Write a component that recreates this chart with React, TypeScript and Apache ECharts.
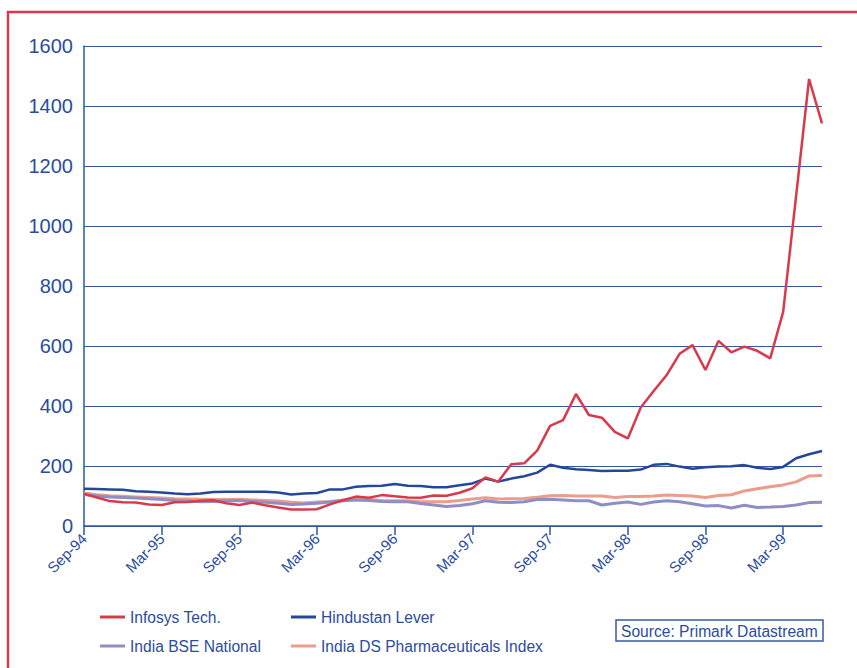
import React, { useEffect, useRef } from "react";
import * as echarts from "echarts";

const months: string[] = (() => {
  const names = ["Jan", "Feb", "Mar", "Apr", "May", "Jun", "Jul", "Aug", "Sep", "Oct", "Nov", "Dec"];
  const out: string[] = [];
  let m = 8, y = 94;
  for (let i = 0; i < 58; i++) {
    out.push(names[m] + "-" + String(y).padStart(2, "0"));
    m++;
    if (m === 12) { m = 0; y = (y + 1) % 100; }
  }
  return out;
})();

const infosys = [
  107, 95, 83, 79, 78, 72, 70, 79, 80, 84, 86, 76, 70, 78, 69, 62, 55, 55, 56, 72,
  86, 98, 94, 103, 99, 95, 94, 102, 101, 111, 126, 162, 148, 206, 209, 251, 334, 353, 440, 370,
  361, 314, 292, 395, 450, 503, 574, 603, 520, 617, 579, 598, 584, 559, 714, 1100, 1490, 1342,
];
const hindustan = [
  124, 123, 122, 121, 116, 114, 112, 108, 106, 108, 113, 114, 114, 114, 114, 112, 105, 108, 110, 122,
  122, 131, 133, 134, 140, 134, 133, 129, 129, 136, 142, 158, 148, 158, 166, 178, 204, 194, 189, 187,
  183, 184, 184, 188, 204, 207, 198, 191, 196, 198, 199, 203, 194, 190, 197, 226, 239, 250,
];
const bse = [
  105, 100, 97, 95, 93, 91, 88, 85, 83, 81, 82, 84, 85, 82, 79, 76, 72, 73, 76, 80,
  84, 87, 85, 82, 81, 81, 75, 70, 65, 68, 74, 84, 79, 78, 81, 88, 89, 87, 84, 84,
  70, 76, 80, 72, 80, 84, 81, 74, 67, 68, 60, 69, 62, 63, 65, 70, 78, 79,
];
const pharma = [
  110, 104, 101, 99, 97, 95, 93, 91, 90, 89, 88, 88, 89, 87, 85, 83, 79, 77, 80, 82,
  87, 92, 89, 84, 84, 84, 81, 81, 81, 85, 90, 94, 90, 91, 92, 96, 101, 102, 100, 100,
  100, 95, 98, 98, 100, 103, 102, 100, 95, 102, 104, 117, 124, 131, 137, 147, 167, 168,
];

const TEXT = "#2b4d9c";
const FONT = "'Liberation Sans', Arial, sans-serif";

export default function App() {
  const ref = useRef<HTMLDivElement>(null);
  useEffect(() => {
    if (!ref.current) return;
    const chart = echarts.init(ref.current, null, { renderer: "svg" });
    chart.setOption({
      animation: false,
      backgroundColor: "#ffffff",
      textStyle: { fontFamily: FONT },
      grid: { left: 84, right: 35, top: 46, bottom: 142, containLabel: false },
      title: {
        text: "Source: Primark Datastream",
        left: 616,
        top: 620,
        padding: [3, 6, 2, 5],
        borderColor: "#3a5aa5",
        borderWidth: 1.5,
        textStyle: { color: TEXT, fontSize: 15.6, fontWeight: "normal", fontFamily: FONT },
      },
      legend: [
        {
          orient: "vertical",
          left: 100,
          top: 609,
          padding: 0,
          itemWidth: 25,
          itemHeight: 3,
          itemGap: 13,
          icon: "rect",
          data: ["Infosys Tech.", "India BSE National"],
          textStyle: { color: TEXT, fontSize: 15.6, fontFamily: FONT },
        },
        {
          orient: "vertical",
          left: 291,
          top: 609,
          padding: 0,
          itemWidth: 25,
          itemHeight: 3,
          itemGap: 13,
          icon: "rect",
          data: ["Hindustan Lever", "India DS Pharmaceuticals Index"],
          textStyle: { color: TEXT, fontSize: 15.6, fontFamily: FONT },
        },
      ],
      xAxis: {
        type: "category",
        data: months,
        boundaryGap: false,
        axisLine: { lineStyle: { color: "#2f55a6", width: 1.5 } },
        axisTick: { interval: 5, length: 9, lineStyle: { color: "#2f55a6", width: 1.5 } },
        axisLabel: { interval: 5, rotate: 45, color: TEXT, fontSize: 15, margin: 10, fontFamily: FONT },
      },
      yAxis: {
        type: "value",
        min: 0,
        max: 1600,
        interval: 200,
        axisLine: { show: true, lineStyle: { color: "#2f55a6", width: 1.5 } },
        axisTick: { show: false },
        axisLabel: {
          color: TEXT,
          fontSize: 20,
          margin: 11,
          fontFamily: FONT,
          formatter: (v: number) => String(v),
        },
        splitLine: { lineStyle: { color: "#3557a6", width: 1.2 } },
      },
      series: [
        {
          name: "India DS Pharmaceuticals Index",
          type: "line",
          data: pharma,
          symbol: "none",
          color: "#eb9c8a",
          lineStyle: { width: 3, color: "#eb9c8a" },
        },
        {
          name: "India BSE National",
          type: "line",
          data: bse,
          symbol: "none",
          color: "#8e8ec6",
          lineStyle: { width: 3, color: "#8e8ec6" },
        },
        {
          name: "Hindustan Lever",
          type: "line",
          data: hindustan,
          symbol: "none",
          color: "#24479a",
          lineStyle: { width: 2.5, color: "#24479a" },
        },
        {
          name: "Infosys Tech.",
          type: "line",
          data: infosys,
          symbol: "none",
          color: "#d83a4c",
          lineStyle: { width: 2.5, color: "#d83a4c" },
        },
      ],
      graphic: [
        {
          type: "rect",
          silent: true,
          shape: { x: 8, y: 12, width: 900, height: 700 },
          style: { fill: "none", stroke: "#d83a4c", lineWidth: 2.5 },
        },
      ],
    });
    return () => chart.dispose();
  }, []);
  return (
    <div
      ref={ref}
      style={{ position: "fixed", left: 0, top: 0, width: 857, height: 668 }}
    />
  );
}
